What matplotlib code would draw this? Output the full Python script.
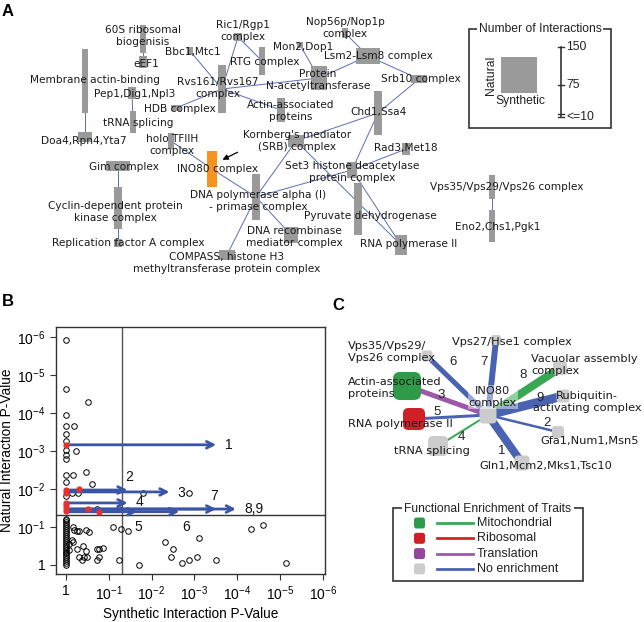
import matplotlib
matplotlib.use('Agg')
import matplotlib.pyplot as plt
import matplotlib.patches as mpatches
import numpy as np

plt.rcParams['font.family'] = ['Liberation Sans', 'DejaVu Sans']
plt.rcParams['mathtext.default'] = 'regular'

# ---------------- panel A: complex network (data) ----------------
a_ids = ['60S', 'eEF1', 'Memb', 'Doa4', 'Pep1', 'tRNA', 'Bbc1', 'Ric1', 'Rvs', 'RTG',
         'HDB', 'Mon2', 'NAT', 'Nop56', 'Lsm', 'Srb10', 'Actin', 'Chd1', 'SRB', 'Rad3',
         'Set3', 'INO80', 'TFIIH', 'Pol', 'Gim', 'CDK', 'RFA', 'PDH', 'Recomb', 'RNAP',
         'COMPASS', 'Vps35', 'Eno2']
a_labels = ['60S ribosomal\nbiogenisis', 'eEF1', 'Membrane actin-binding', 'Doa4,Rpn4,Yta7',
            'Pep1,Dig1,Npl3', 'tRNA splicing', 'Bbc1,Mtc1', 'Ric1/Rgp1\ncomplex',
            'Rvs161/Rvs167\ncomplex', 'RTG complex', 'HDB complex', 'Mon2,Dop1',
            'Protein\nN-acetyltransferase', 'Nop56p/Nop1p\ncomplex', 'Lsm2-Lsm8 complex',
            'Srb10 complex', 'Actin-associated\nproteins', 'Chd1,Ssa4',
            "Kornberg's mediator\n(SRB) complex", 'Rad3,Met18',
            'Set3 histone deacetylase\nprotein complex', 'INO80 complex', 'holo TFIIH\ncomplex',
            'DNA polymerase alpha (I)\n- primase complex', 'Gim complex',
            'Cyclin-dependent protein\nkinase complex', 'Replication factor A complex',
            'Pyruvate dehydrogenase', 'DNA recombinase\nmediator complex', 'RNA polymerase II',
            'COMPASS, histone H3\nmethyltransferase protein complex',
            'Vps35/Vps29/Vps26 complex', 'Eno2,Chs1,Pgk1']
a_synthetic = [11, 17, 11, 28, 19, 13, 13, 17, 19, 13, 23, 13, 32, 13, 49, 32, 17, 15, 36, 17,
               23, 21, 13, 15, 51, 15, 15, 15, 28, 26, 32, 13, 13]
a_natural = [60, 26, 138, 21, 26, 45, 15, 15, 102, 60, 11, 11, 53, 21, 32, 17, 51, 94, 26, 26,
             32, 77, 32, 96, 23, 91, 17, 111, 34, 43, 21, 49, 70]
a_edges = [('60S', 'eEF1'), ('Memb', 'Doa4'), ('Pep1', 'tRNA'), ('Gim', 'CDK'), ('CDK', 'RFA'),
           ('Vps35', 'Eno2'), ('Bbc1', 'Rvs'), ('Ric1', 'Rvs'), ('Ric1', 'RTG'), ('Rvs', 'HDB'),
           ('Rvs', 'NAT'), ('Rvs', 'Actin'), ('Mon2', 'NAT'), ('Nop56', 'Lsm'), ('Lsm', 'NAT'),
           ('Lsm', 'Srb10'), ('Srb10', 'Chd1'), ('Chd1', 'SRB'), ('Chd1', 'Set3'), ('SRB', 'Pol'),
           ('SRB', 'RNAP'), ('Set3', 'RNAP'), ('Set3', 'Rad3'), ('Set3', 'Pol'),
           ('TFIIH', 'INO80'), ('INO80', 'Pol'), ('Pol', 'Recomb'), ('Pol', 'COMPASS')]
a_focus = 'INO80'

# layout (pixel positions of node centres and labels)
a_pos = {'60S': (143, 39), 'eEF1': (143, 62), 'Memb': (85, 81), 'Doa4': (85, 137),
         'Pep1': (132, 93), 'tRNA': (133, 122), 'Bbc1': (190, 51), 'Ric1': (238, 37),
         'Rvs': (222, 89), 'RTG': (262, 61), 'HDB': (176, 108), 'Mon2': (300, 45),
         'NAT': (319, 78), 'Nop56': (345, 33), 'Lsm': (368, 56), 'Srb10': (419, 79),
         'Actin': (281, 110), 'Chd1': (378, 113), 'SRB': (296, 141), 'Rad3': (406, 149),
         'Set3': (352, 170), 'INO80': (212, 169), 'TFIIH': (171, 141), 'Pol': (256, 197),
         'Gim': (118, 166), 'CDK': (118, 208), 'RFA': (118, 243), 'PDH': (358, 209),
         'Recomb': (291, 235), 'RNAP': (401, 245), 'COMPASS': (227, 255), 'Vps35': (492, 187),
         'Eno2': (492, 226)}
a_lab = {'60S': (143, 36), 'eEF1': (146, 64), 'Memb': (95, 80), 'Doa4': (84, 141),
         'Pep1': (135, 94), 'tRNA': (138, 123), 'Bbc1': (193, 52), 'Ric1': (243, 31),
         'Rvs': (218, 88), 'RTG': (265, 62), 'HDB': (180, 109), 'Mon2': (303, 47),
         'NAT': (318, 80), 'Nop56': (345, 28), 'Lsm': (378, 56), 'Srb10': (421, 79),
         'Actin': (291, 111), 'Chd1': (379, 112), 'SRB': (297, 141), 'Rad3': (406, 148),
         'Set3': (352, 172), 'INO80': (218, 169), 'TFIIH': (172, 145), 'Pol': (258, 201),
         'Gim': (124, 167), 'CDK': (115, 212), 'RFA': (128, 243), 'PDH': (370, 216),
         'Recomb': (294, 237), 'RNAP': (409, 244), 'COMPASS': (227, 263), 'Vps35': (507, 187),
         'Eno2': (498, 227)}
px_per = 0.47

# ---------------- panel B: p-value scatter (values are -log10 p) ----------------
b_syn = [0]*9 + [0]*3 + [0]*25 + \
        [0.51, 0.19, 0.23, 0.16, 0.47, 0.6, 0.14, 0.28, 0.72, 1.23, 1.79, 2.88,
         1.09, 1.28, 1.44, 2.32, 2.51, 3.12, 2.46, 2.72, 2.88, 3.07, 3.51, 4.33, 4.6, 5.14, 1.7, 1.23,
         0.16, 0.19, 0.26, 0.3, 0.47, 0.53, 0.07, 0.14, 0.16, 0.26, 0.4, 0.47, 0.42, 0.49, 0.37,
         0.72, 0.77, 0.72, 0.77, 0.86, 0.07, 0.3]
b_nat = [5.92, 4.63, 3.95, 3.66, 3.45, 3.26, 3.03, 2.89, 2.79] + [2.37, 2.18, 1.8] + \
        [1.22, 1.17, 1.12, 1.07, 1.02, 0.97, 0.92, 0.87, 0.82, 0.77, 0.72, 0.66, 0.6, 0.55, 0.5,
         0.45, 0.4, 0.35, 0.3, 0.25, 0.2, 0.15, 0.1, 0.05, 0.0] + \
        [4.29, 3.66, 3.0, 2.37, 2.45, 2.13, 1.9, 1.88, 1.47, 1.47, 1.9, 1.9,
         1.0, 0.95, 0.9, 0.6, 0.42, 0.71, 0.21, 0.05, 0.13, 0.21, 0.13, 0.95, 1.05, 0.05, 0.0, 0.13,
         1.0, 0.92, 0.9, 0.9, 0.92, 0.87, 0.39, 0.65, 0.6, 0.42, 0.5, 0.37, 0.21, 0.21, 0.13,
         0.13, 0.21, 0.42, 0.42, 0.45, 0.55, 0.2]
b_red_syn = [0, 0, 0, 0.3, 0, 0, 0, 0, 0.51, 0.77]
b_red_nat = [3.16, 1.97, 1.9, 2.0, 1.63, 1.57, 1.5, 1.42, 1.47, 1.4]
b_arrow_lab = ['1', '2', '3', '4', '5', '6', '7', '8,9']
b_arrow_nat = [3.16, 1.97, 1.92, 1.63, 1.40, 1.40, 1.47, 1.47]
b_arrow_syn = [3.51, 1.44, 2.42, 1.44, 1.67, 2.65, 3.51, 3.97]
b_cut = 0.05
b_ticks = [1, 1e-1, 1e-2, 1e-3, 1e-4, 1e-5, 1e-6]
b_ticklabels = ['1', '$10^{-1}$', '$10^{-2}$', '$10^{-3}$', '$10^{-4}$', '$10^{-5}$', '$10^{-6}$']

# ---------------- panel C: INO80 star (data) ----------------
c_ids = [1, 2, 3, 4, 5, 6, 7, 8, 9]
c_partners = ['Gln1,Mcm2,Mks1,Tsc10', 'Gfa1,Num1,Msn5', 'Actin-associated\nproteins',
              'tRNA splicing', 'RNA polymerase II', 'Vps35/Vps29/\nVps26 complex',
              'Vps27/Hse1 complex', 'Vacuolar assembly\ncomplex', 'Rubiquitin-\nactivating complex']
c_edge_enrich = ['No enrichment', 'No enrichment', 'Translation', 'Mitochondrial',
                 'No enrichment', 'No enrichment', 'No enrichment', 'Mitochondrial', 'No enrichment']
c_node_enrich = ['No enrichment', 'No enrichment', 'Mitochondrial', 'No enrichment', 'Ribosomal',
                 'No enrichment', 'No enrichment', 'No enrichment', 'No enrichment']
c_edge_weight = [8, 2.5, 5, 2, 3, 5, 6, 8, 9]
c_node_size = [15, 12, 28, 20, 22, 11, 10, 14, 13]
c_center_size = 17
c_categories = ['Mitochondrial', 'Ribosomal', 'Translation', 'No enrichment']
c_node_col = {'Mitochondrial': '#2f9a47', 'Ribosomal': '#cf2027', 'Translation': '#92479b',
              'No enrichment': '#cccccc'}
c_edge_col = {'Mitochondrial': '#3aa853', 'Ribosomal': '#d0262b', 'Translation': '#9b5aa8',
              'No enrichment': '#4a62b2'}

# layout for panel C
c_center = (488, 415)
c_pos = [(522, 463), (558, 432), (407, 386), (438, 446), (414, 419), (427, 356), (496, 340),
         (560, 368), (563, 396)]
c_lab = [(546, 466, 'center'), (590, 441, 'center'), (348, 388, 'left'), (432, 451, 'center'),
         (400, 424, 'center'), (348, 352, 'left'), (512, 342, 'center'), (531, 365, 'left'),
         (587, 402, 'center')]
c_num = [(502, 451), (547, 423), (441, 395), (461, 437), (437, 412), (453, 362), (484, 362),
         (523, 375), (540, 398)]

# ======================================================================
fig = plt.figure(figsize=(6.44, 6.22), dpi=100)
ax = fig.add_axes([0, 0, 1, 1])
ax.set_xlim(0, 644)
ax.set_ylim(622, 0)
ax.axis('off')

# panel A
grey = '#9a9a9a'
for s, t in a_edges:
    (x1, y1), (x2, y2) = a_pos[s], a_pos[t]
    ax.plot([x1, x2], [y1, y2], color='#5a6eb4', lw=0.7, zorder=1)
for i, nid in enumerate(a_ids):
    w = max(a_synthetic[i], 10) * px_per
    h = max(a_natural[i], 10) * px_per
    cx, cy = a_pos[nid]
    col = '#f7931e' if nid == a_focus else grey
    ax.add_patch(mpatches.Rectangle((cx - w/2, cy - h/2), w, h, color=col, lw=0, zorder=2))
    lx, ly = a_lab[nid]
    ax.text(lx, ly, a_labels[i], ha='center', va='center', fontsize=7.6,
            family=['DejaVu Sans'], color='#1a1a1a', linespacing=1.2, zorder=3)
ax.annotate('', xy=(220, 161), xytext=(240, 151),
            arrowprops=dict(arrowstyle='-|>', color='black', lw=0.9, mutation_scale=8), zorder=4)

# legend A
ax.add_patch(mpatches.Rectangle((469, 29), 142, 99, fill=False, ec='#333333', lw=1.2, zorder=2))
ax.text(540, 29, 'Number of Interactions', ha='center', va='center', fontsize=8.7,
        color='#222222', bbox=dict(fc='white', ec='none', pad=1.5), zorder=3)
sq = 75 * px_per
ax.add_patch(mpatches.Rectangle((519 - sq/2, 75 - sq/2), sq, sq, color=grey, lw=0, zorder=3))
ax.text(491, 75, 'Natural', rotation=90, ha='center', va='center', fontsize=8.7, color='#222222')
ax.text(520, 101, 'Synthetic', ha='center', va='center', fontsize=8.7, color='#222222')
bar_x, bar_bottom = 561, 117
scale_vals = [150, 75, 10]
scale_labs = ['150', '75', '<=10']
ax.plot([bar_x, bar_x], [bar_bottom - (150 - 10) * 0.5, bar_bottom], color='#333333', lw=1.2)
for v, lab in zip(scale_vals, scale_labs):
    yy = bar_bottom - (v - 10) * 0.5
    ax.plot([bar_x - 3, bar_x + 3], [yy, yy], color='#333333', lw=1)
    ax.text(bar_x + 5, yy, lab, ha='left', va='center', fontsize=8.7, color='#222222')
ax.plot([bar_x - 3, bar_x + 3], [bar_bottom - 3, bar_bottom - 3], color='#333333', lw=1)

# panel C edges and nodes
for i in range(len(c_ids)):
    x2, y2 = c_pos[i]
    ax.plot([c_center[0], x2], [c_center[1], y2], color=c_edge_col[c_edge_enrich[i]],
            lw=c_edge_weight[i] * 0.72, solid_capstyle='butt', zorder=1)
for i in range(len(c_ids)):
    x2, y2 = c_pos[i]
    s = c_node_size[i]
    ax.add_patch(mpatches.FancyBboxPatch((x2 - s/2, y2 - s/2), s, s,
                                         boxstyle='round,pad=0,rounding_size=%g' % (s * 0.25),
                                         fc=c_node_col[c_node_enrich[i]], ec='none', zorder=2))
    lx, ly, ha = c_lab[i]
    ax.text(lx, ly, c_partners[i], ha=ha, va='center', fontsize=8.2, family=['DejaVu Sans'],
            color='#1a1a1a', linespacing=1.2, multialignment='left' if ha == 'left' else 'center',
            zorder=4)
    nx, ny = c_num[i]
    ax.text(nx, ny, str(c_ids[i]), ha='center', va='center', fontsize=9.5, color='#222222', zorder=4)
s = c_center_size
ax.add_patch(mpatches.FancyBboxPatch((c_center[0] - s/2, c_center[1] - s/2), s, s,
                                     boxstyle='round,pad=0,rounding_size=4',
                                     fc='#cccccc', ec='none', zorder=2))
ax.text(493, 397, 'INO80\ncomplex', ha='center', va='center', fontsize=8.2, family=['DejaVu Sans'],
        color='#1a1a1a', linespacing=1.2, zorder=3,
        bbox=dict(fc='white', ec='none', alpha=0.45, pad=1))

# legend C
ax.add_patch(mpatches.Rectangle((393, 508), 190, 73, fill=False, ec='#333333', lw=1.2, zorder=2))
ax.text(488, 509, 'Functional Enrichment of Traits', ha='center', va='center', fontsize=8.7,
        color='#222222', bbox=dict(fc='white', ec='none', pad=1.5), zorder=3)
for k, cat in enumerate(c_categories):
    yy = 523 + k * 15.3
    ax.add_patch(mpatches.FancyBboxPatch((414, yy - 5.5), 11, 11,
                                         boxstyle='round,pad=0,rounding_size=2.5',
                                         fc=c_node_col[cat], ec='none', zorder=3))
    ax.plot([437, 473], [yy, yy], color=c_edge_col[cat], lw=2, zorder=3)
    ax.text(477, yy, cat, ha='left', va='center', fontsize=9, color='#222222')

# panel letters
for lab, (x, y) in zip(['A', 'B', 'C'], [(8, 11), (8, 302), (338, 306)]):
    ax.text(x, y, lab, ha='center', va='center', fontsize=12, fontweight='bold')

# panel B
axb = fig.add_axes([56/644, 48/622, 269/644, 247/622])
syn_p = 10.0 ** -np.array(b_syn)
nat_p = 10.0 ** -np.array(b_nat)
axb.set_xscale('log')
axb.set_yscale('log')
axb.axvline(b_cut, color='#555555', lw=1, zorder=1)
axb.axhline(b_cut, color='#333333', lw=1, zorder=1)
axb.plot(syn_p, nat_p, 'o', mfc='none', mec='black', ms=4, mew=0.7, zorder=2)
axb.plot(10.0 ** -np.array(b_red_syn), 10.0 ** -np.array(b_red_nat), 'o', color='#e8302c',
         ms=4.5, mew=0, zorder=4)
lab_off = {'1': (6, 0, 'left', 'center'), '2': (-2, 4, 'left', 'bottom'),
           '3': (6, -1, 'left', 'center'), '4': (6, 1, 'left', 'center'),
           '5': (-2, -6, 'left', 'top'), '6': (2, -6, 'left', 'top'),
           '7': (-4, 4, 'left', 'bottom'), '8,9': (6, 0, 'left', 'center')}
for lab, ny, sx in zip(b_arrow_lab, b_arrow_nat, b_arrow_syn):
    y = 10.0 ** -ny
    axb.annotate('', xy=(10.0 ** -sx, y), xytext=(1, y),
                 arrowprops=dict(arrowstyle='->', color='#3b55a6', lw=2, mutation_scale=12,
                                 shrinkA=0, shrinkB=0), zorder=3)
    dx, dy, ha, va = lab_off[lab]
    axb.annotate(lab, xy=(10.0 ** -sx, y), xytext=(dx, dy), textcoords='offset points',
                 ha=ha, va=va, fontsize=10, color='#111111')
axb.set_xlim(10 ** 0.23, 10 ** -6.05)
axb.set_ylim(10 ** 0.24, 10 ** -6.26)
axb.set_xticks(b_ticks)
axb.set_xticklabels(b_ticklabels)
axb.set_yticks(b_ticks)
axb.set_yticklabels(b_ticklabels)
axb.minorticks_off()
axb.tick_params(labelsize=10, length=4, width=0.8, color='#333333')
for sp in axb.spines.values():
    sp.set_color('#333333')
    sp.set_linewidth(1)
axb.set_xlabel('Synthetic Interaction P-Value', fontsize=9.8, labelpad=3)
axb.set_ylabel('Natural Interaction P-Value', fontsize=9.8, labelpad=2)

fig.savefig('out.png', dpi=100)
